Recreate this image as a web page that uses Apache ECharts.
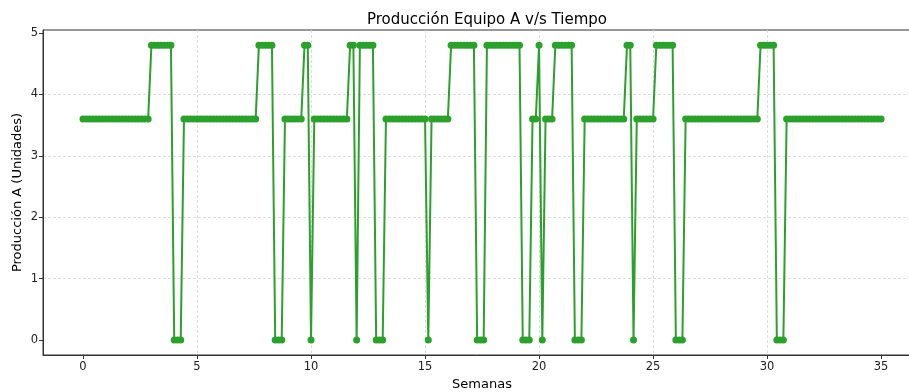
<!DOCTYPE html>
<html>
<head>
<meta charset="utf-8">
<script src="https://cdn.jsdelivr.net/npm/echarts@6/dist/echarts.min.js"></script>
<style>
html,body{margin:0;padding:0;background:#fff;}
#chart{width:909px;height:392px;}
</style>
</head>
<body>
<div id="chart"></div>
<script>
// Production (units), one value per day, 7 per week
const produccion = [
  3.6,3.6,3.6,3.6,3.6,3.6,3.6,
  3.6,3.6,3.6,3.6,3.6,3.6,3.6,
  3.6,3.6,3.6,3.6,3.6,3.6,3.6,
  4.8,4.8,4.8,4.8,4.8,4.8,4.8,
  0,0,0,3.6,3.6,3.6,3.6,
  3.6,3.6,3.6,3.6,3.6,3.6,3.6,
  3.6,3.6,3.6,3.6,3.6,3.6,3.6,
  3.6,3.6,3.6,3.6,3.6,4.8,4.8,
  4.8,4.8,4.8,0,0,0,3.6,
  3.6,3.6,3.6,3.6,3.6,4.8,4.8,
  0,3.6,3.6,3.6,3.6,3.6,3.6,
  3.6,3.6,3.6,3.6,3.6,4.8,4.8,
  0,4.8,4.8,4.8,4.8,4.8,0,
  0,0,3.6,3.6,3.6,3.6,3.6,
  3.6,3.6,3.6,3.6,3.6,3.6,3.6,
  3.6,0,3.6,3.6,3.6,3.6,3.6,
  3.6,4.8,4.8,4.8,4.8,4.8,4.8,
  4.8,4.8,0,0,0,4.8,4.8,
  4.8,4.8,4.8,4.8,4.8,4.8,4.8,
  4.8,4.8,0,0,0,3.6,3.6,
  4.8,0,3.6,3.6,3.6,4.8,4.8,
  4.8,4.8,4.8,4.8,0,0,0,
  3.6,3.6,3.6,3.6,3.6,3.6,3.6,
  3.6,3.6,3.6,3.6,3.6,3.6,4.8,
  4.8,0,3.6,3.6,3.6,3.6,3.6,
  3.6,4.8,4.8,4.8,4.8,4.8,4.8,
  0,0,0,3.6,3.6,3.6,3.6,
  3.6,3.6,3.6,3.6,3.6,3.6,3.6,
  3.6,3.6,3.6,3.6,3.6,3.6,3.6,
  3.6,3.6,3.6,3.6,3.6,4.8,4.8,
  4.8,4.8,4.8,0,0,0,3.6,
  3.6,3.6,3.6,3.6,3.6,3.6,3.6,
  3.6,3.6,3.6,3.6,3.6,3.6,3.6,
  3.6,3.6,3.6,3.6,3.6,3.6,3.6,
  3.6,3.6,3.6,3.6,3.6,3.6,3.6,
  3.6
];
const diasPorSemana = 7;
const xTicks = [0,5,10,15,20,25,30,35];
const yTicks = [0,1,2,3,4,5];

const serieData = produccion.map((v, i) => [i / diasPorSemana, v]);

const FONT = 'DejaVu Sans';
const chart = echarts.init(document.getElementById('chart'), null, {renderer: 'canvas'});
chart.setOption({
  animation: false,
  backgroundColor: '#ffffff',
  title: {
    text: 'Producción Equipo A v/s Tiempo',
    left: 482, top: 8, textAlign: 'center',
    textStyle: {fontFamily: FONT, fontSize: 15, fontWeight: 'normal', color: '#000'}
  },
  grid: {
    left: 43, top: 30, right: -12, bottom: 37,
    containLabel: false, outerBoundsMode: 'none',
    show: true, borderColor: '#333', borderWidth: 1, backgroundColor: 'transparent'
  },
  xAxis: {
    type: 'value', min: -1.754, max: 36.75, splitNumber: 8,
    name: 'Semanas', nameLocation: 'middle', nameGap: 22,
    nameTextStyle: {fontFamily: FONT, fontSize: 13, color: '#000'},
    axisLine: {show: true, onZero: false, lineStyle: {color: '#333', width: 1}},
    axisTick: {show: true, length: 4, lineStyle: {color: '#333'}, customValues: xTicks},
    axisLabel: {fontFamily: FONT, fontSize: 11.5, color: '#222', margin: 6, customValues: xTicks},
    splitLine: {show: true, showMinLine: false, showMaxLine: false,
      lineStyle: {color: '#d4d4d4', type: [3, 2], width: 0.8}}
  },
  yAxis: {
    type: 'value', min: -0.244, max: 5.05, splitNumber: 5,
    name: 'Producción A (Unidades)', nameLocation: 'middle', nameGap: 19,
    nameMoveOverlap: false,
    nameTextStyle: {fontFamily: FONT, fontSize: 13, color: '#000'},
    axisLine: {show: true, onZero: false, lineStyle: {color: '#333', width: 1}},
    axisTick: {show: true, length: 4, lineStyle: {color: '#333'}, customValues: yTicks},
    axisLabel: {fontFamily: FONT, fontSize: 11.5, color: '#222', margin: 5, customValues: yTicks},
    splitLine: {show: true, showMinLine: false, showMaxLine: false,
      lineStyle: {color: '#d4d4d4', type: [3, 2], width: 0.8}}
  },
  series: [{
    type: 'line',
    data: serieData,
    showAllSymbol: true,
    symbol: 'circle',
    symbolSize: 7,
    lineStyle: {color: '#2ca02c', width: 2},
    itemStyle: {color: '#2ca02c', borderWidth: 0},
    emphasis: {disabled: true},
    silent: true
  }]
});
</script>
</body>
</html>
